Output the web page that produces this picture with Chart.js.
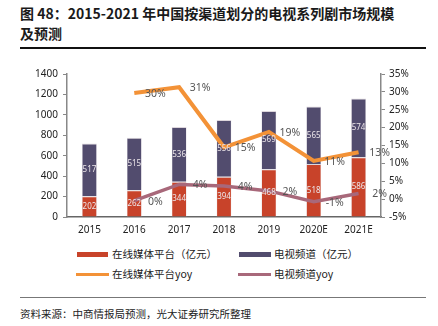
<!DOCTYPE html>
<html>
<head>
<meta charset="utf-8">
<script src="https://cdn.jsdelivr.net/npm/chart.js@4.4.1/dist/chart.umd.min.js"></script>
<style>
  body { margin: 0; width: 438px; height: 326px; background: #fff; position: relative; overflow: hidden;
         font-family: "Noto Sans CJK SC", "Noto Sans", sans-serif; color: #222; }
  #title { position: absolute; left: 20px; top: 3px; width: 418px; font-size: 14px; font-weight: bold; line-height: 20px; color: #1a1a1a; white-space: nowrap; }
  #rule { position: absolute; left: 20px; top: 47px; width: 406px; height: 1.5px; background: #111; }
  #wrap { position: absolute; left: 0; top: 60px; width: 438px; height: 182px; }
  .leg { position: absolute; font-size: 10.5px; color: #222; line-height: 14px; white-space: nowrap; }
  .sw { position: absolute; }
  #rule2 { position: absolute; left: 20px; top: 297px; width: 406px; height: 1px; background: #777; }
  #source { position: absolute; left: 20px; top: 306px; font-size: 10.5px; color: #222; }
</style>
</head>
<body>
<div id="title">图 48：2015-2021 年中国按渠道划分的电视系列剧市场规模<br>及预测</div>
<div id="rule"></div>
<div id="wrap"><canvas id="chart" width="438" height="182"></canvas></div>

<div class="sw" style="left:77px;top:252px;width:31px;height:5px;background:#c8432a"></div>
<div class="leg" style="left:112px;top:247px">在线媒体平台（亿元）</div>
<div class="sw" style="left:239px;top:252px;width:32px;height:5px;background:#524c6e"></div>
<div class="leg" style="left:274px;top:247px">电视频道（亿元）</div>
<div class="sw" style="left:76px;top:273px;width:33px;height:3px;background:#f39237"></div>
<div class="leg" style="left:112px;top:267px">在线媒体平台yoy</div>
<div class="sw" style="left:238px;top:273px;width:33px;height:3px;background:#a8687a"></div>
<div class="leg" style="left:274px;top:267px">电视频道yoy</div>

<div id="rule2"></div>
<div id="source">资料来源：中商情报局预测，光大证券研究所整理</div>

<script>
// Données
const years = ['2015', '2016', '2017', '2018', '2019', '2020E', '2021E'];
const onlineValues = [202, 262, 344, 394, 468, 518, 586];
const tvValues = [517, 515, 536, 556, 569, 565, 574];
const onlineYoy = [null, 29.7, 31.3, 14.5, 18.8, 10.7, 13.1];
const tvYoy = [null, -0.4, 4.1, 3.7, 2.3, -0.7, 1.6];
const leftTicks = [0, 200, 400, 600, 800, 1000, 1200, 1400];
const rightTicks = [-5, 0, 5, 10, 15, 20, 25, 30, 35];

const tickFont = { family: '"Noto Sans", sans-serif', size: 10 };

// Étiquettes des valeurs (barres au centre, courbes à droite du point)
const valueLabels = {
  id: 'valueLabels',
  afterDatasetsDraw(chart) {
    const ctx = chart.ctx;
    ctx.save();
    ctx.textBaseline = 'middle';
    chart.data.datasets.forEach((ds, i) => {
      const meta = chart.getDatasetMeta(i);
      meta.data.forEach((el, j) => {
        const v = ds.data[j];
        if (v === null) return;
        if (ds.type === 'bar') {
          ctx.font = '8px "Noto Sans", sans-serif';
          ctx.fillStyle = '#ece6ea';
          ctx.textAlign = 'center';
          ctx.fillText(String(v), el.x, (el.y + el.base) / 2);
        } else {
          ctx.font = '10.5px "Noto Sans", sans-serif';
          ctx.fillStyle = '#555';
          ctx.textAlign = 'center';
          ctx.fillText(Math.round(v) + '%', el.x + 21, el.y + 1);
        }
      });
    });
    ctx.restore();
  }
};

new Chart(document.getElementById('chart'), {
  data: {
    labels: years,
    datasets: [
      { type: 'line', data: onlineYoy, yAxisID: 'y1', borderColor: '#f39237', borderWidth: 4,
        pointRadius: 0, tension: 0, order: 0 },
      { type: 'line', data: tvYoy, yAxisID: 'y1', borderColor: '#a8687a', borderWidth: 3.5,
        pointRadius: 0, tension: 0, order: 1 },
      { type: 'bar', data: onlineValues, yAxisID: 'y', backgroundColor: '#c8432a',
        borderColor: '#ddd6dc', borderWidth: { top: 1, left: 0.5, right: 0.5, bottom: 0 },
        barPercentage: 0.33, categoryPercentage: 1, stack: 's', order: 2 },
      { type: 'bar', data: tvValues, yAxisID: 'y', backgroundColor: '#524c6e',
        borderColor: '#ddd6dc', borderWidth: { top: 1, left: 0.5, right: 0.5, bottom: 0 },
        barPercentage: 0.33, categoryPercentage: 1, stack: 's', order: 3 }
    ]
  },
  options: {
    responsive: false,
    animation: false,
    layout: { padding: { top: 14, left: 0, right: 0, bottom: 0 } },
    plugins: { legend: { display: false }, tooltip: { enabled: false } },
    scales: {
      x: {
        stacked: true,
        grid: { display: false, drawTicks: false },
        border: { display: true, color: '#666', width: 1.5 },
        ticks: { color: '#222', font: tickFont, padding: 7, maxRotation: 0 },
        afterFit(s) { s.height = 25; }
      },
      y: {
        stacked: true,
        position: 'left',
        min: 0, max: 1400,
        afterBuildTicks(s) { s.ticks = leftTicks.map(v => ({ value: v })); },
        grid: { drawOnChartArea: false, drawTicks: true, tickLength: 4, color: '#888' },
        border: { display: true, color: '#888', width: 1.5 },
        ticks: { color: '#222', font: tickFont, padding: 5, callback: v => String(v) },
        afterFit(s) { s.width = 67; }
      },
      y1: {
        position: 'right',
        min: -5, max: 35,
        afterBuildTicks(s) { s.ticks = rightTicks.map(v => ({ value: v })); },
        grid: { drawOnChartArea: false, drawTicks: true, tickLength: 4, color: '#888' },
        border: { display: true, color: '#888', width: 1.5 },
        ticks: { color: '#222', font: tickFont, padding: 4, callback: v => v + '%' },
        afterFit(s) { s.width = 57; }
      }
    }
  },
  plugins: [valueLabels]
});
</script>
</body>
</html>
